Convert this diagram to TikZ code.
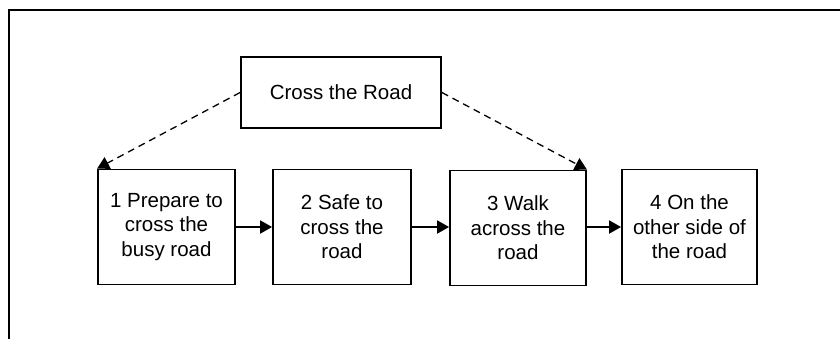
\documentclass[tikz,border=0pt]{standalone}
\usepackage{fontspec}
\setmainfont{Liberation Sans}
\usetikzlibrary{arrows.meta}
\begin{document}
\begin{tikzpicture}[x=1bp,y=-1bp,
  box/.style={draw=black,line width=1.8bp,fill=white,inner sep=0pt,align=center,
    font=\fontsize{20.5bp}{24.5bp}\selectfont},
  stepbox/.style={box,minimum width=137bp,minimum height=115bp},
  flow/.style={line width=1.8bp,-{Triangle[length=12bp,width=13bp]}},
  link/.style={line width=1.3bp,dash pattern=on 7bp off 5bp,-{Triangle[length=12bp,width=13bp]}}]
\useasboundingbox (0,0) rectangle (840,339);
\draw[line width=2.2bp] (9,339) -- (9,10) -- (840,10);
\node[box,minimum width=200bp,minimum height=71bp] (top) at (341,92.5) {Cross the Road};
\node[stepbox] (b1) at (166.5,227) {1 Prepare to\\cross the\\busy road};
\node[stepbox,minimum width=138bp] (b2) at (342,227) {2 Safe to\\cross the\\road};
\node[stepbox,minimum width=136bp] (b3) at (518,228) {3 Walk\\across the\\road};
\node[stepbox,minimum width=135bp] (b4) at (689.5,227) {4 On the\\other side of\\the road};
\draw[flow] (b1.east) -- (b2.west);
\draw[flow] (b2.east) -- (b3.west |- b2.east);
\draw[flow] (b3.east |- b2.east) -- (b4.west);
\draw[link] (top.west) -- (b1.north west);
\draw[link] (top.east) -- (b3.north east);
\end{tikzpicture}
\end{document}
